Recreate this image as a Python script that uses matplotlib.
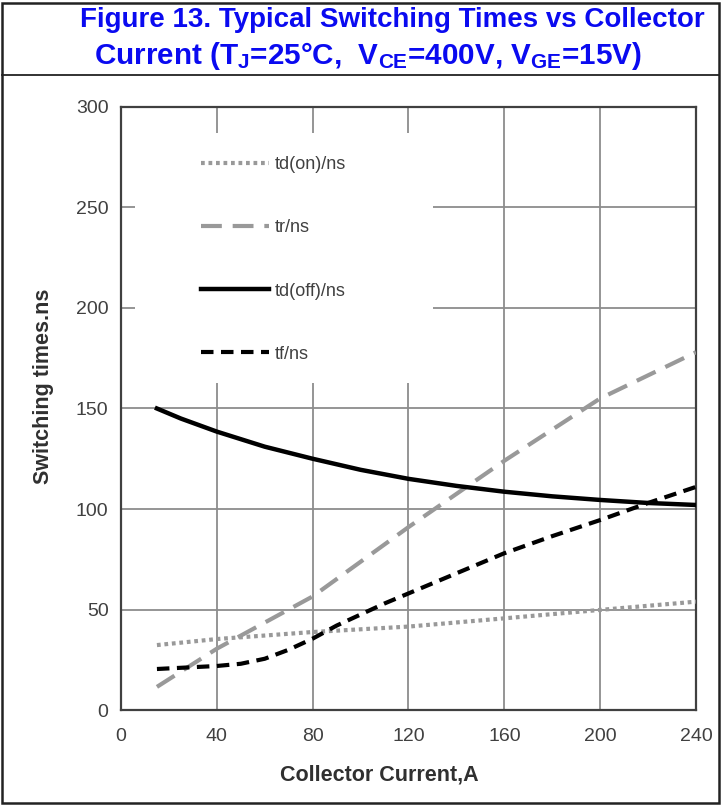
import numpy as np
import matplotlib
matplotlib.use('Agg')
import matplotlib.pyplot as plt
from matplotlib.lines import Line2D
from matplotlib.patches import Rectangle

# data
ic_on = [15, 40, 80, 120, 160, 200, 240]
td_on = [32.3, 35.3, 38.8, 41.5, 45.6, 49.8, 53.9]

ic_r = [15, 40, 80, 120, 160, 200, 240]
tr = [11.5, 30.5, 56.5, 91, 124, 155, 178]

ic_off = [15, 25, 40, 60, 80, 100, 120, 140, 160, 180, 200, 220, 240]
td_off = [150, 145, 138.5, 131, 125, 119.5, 115, 111.5, 108.6, 106.3, 104.5, 103, 102]

ic_f = [15, 25, 40, 50, 60, 70, 80, 90, 100, 110, 120, 140, 160, 180, 200, 220, 240]
tf = [20.4, 21, 21.9, 23, 25.5, 30, 35.5, 42, 47.5, 53, 58, 68, 78, 86.5, 94.5, 103, 111]

xticks = [0, 40, 80, 120, 160, 200, 240]
yticks = [0, 50, 100, 150, 200, 250, 300]

plt.rcParams['font.family'] = 'Liberation Sans'
plt.rcParams['mathtext.fontset'] = 'custom'
plt.rcParams['mathtext.rm'] = 'Liberation Sans:bold'
plt.rcParams['mathtext.it'] = 'Liberation Sans:bold'
plt.rcParams['mathtext.bf'] = 'Liberation Sans:bold'

fig = plt.figure(figsize=(7.22, 8.05), dpi=100)
ax = fig.add_axes([121/722, 1-710/805, 575/722, 603/805])

# outer frame and title separator
fig.patches.append(Rectangle((2/722, 2/805), 717/722, 800/805, transform=fig.transFigure,
                             fill=False, edgecolor='#222222', linewidth=1.8))
fig.lines.append(Line2D([2/722, 719/722], [1-75/805, 1-75/805], transform=fig.transFigure,
                        color='#222222', linewidth=1.3))

tcol = '#0a0af0'
fig.text(392/722, 1-20/805, 'Figure 13. Typical Switching Times vs Collector', ha='center', va='center',
         fontsize=20, fontweight='bold', color=tcol)
fig.text(368/722, 1-56/805, r'Current (T$_{J}$=25°C,  V$_{CE}$=400V, V$_{GE}$=15V)', ha='center', va='center',
         fontsize=21.3, fontweight='bold', color=tcol)

ax.plot(ic_on, td_on, color='#999999', linestyle=(0, (0.9, 0.9)), linewidth=3, label='td(on)/ns', zorder=3)
ax.plot(ic_r, tr, color='#999999', linestyle=(0, (5, 2.6)), linewidth=3, label='tr/ns', zorder=3)
ax.plot(ic_off, td_off, color='black', linestyle='-', linewidth=3.2, label='td(off)/ns', zorder=3)
ax.plot(ic_f, tf, color='black', linestyle=(0, (3, 1.8)), linewidth=3, label='tf/ns', zorder=3)

ax.set_xlim(0, 240)
ax.set_ylim(0, 300)
ax.set_xticks(xticks)
ax.set_yticks(yticks)
ax.set_axisbelow(True)
ax.grid(True, color='#8c8c8c', linewidth=1.3)
ax.tick_params(length=0, labelsize=14, labelcolor='#404040')
ax.tick_params(axis='x', pad=13)
ax.tick_params(axis='y', pad=9)
for s in ax.spines.values():
    s.set_color('#404040')
    s.set_linewidth(1.6)

# white box behind the legend hides the grid there
ax.add_patch(Rectangle((0.024, 0.542), 0.519, 0.415, transform=ax.transAxes,
                       facecolor='white', edgecolor='none', zorder=1))

leg = ax.legend(loc='upper left', bbox_to_anchor=(0.124, 0.933), frameon=False,
                handlelength=3.75, handletextpad=0.3, labelspacing=2.55,
                borderpad=0, prop={'size': 13})
for t in leg.get_texts():
    t.set_color('#404040')

ax.set_xlabel('Collector Current,A', fontsize=15.5, fontweight='bold', color='#303030')
ax.set_ylabel('Switching times.ns', fontsize=15.5, fontweight='bold', color='#303030')
ax.xaxis.set_label_coords(0.45, -0.09)
ax.yaxis.set_label_coords(-0.117, 0.536)

fig.savefig('out.png', dpi=100)
